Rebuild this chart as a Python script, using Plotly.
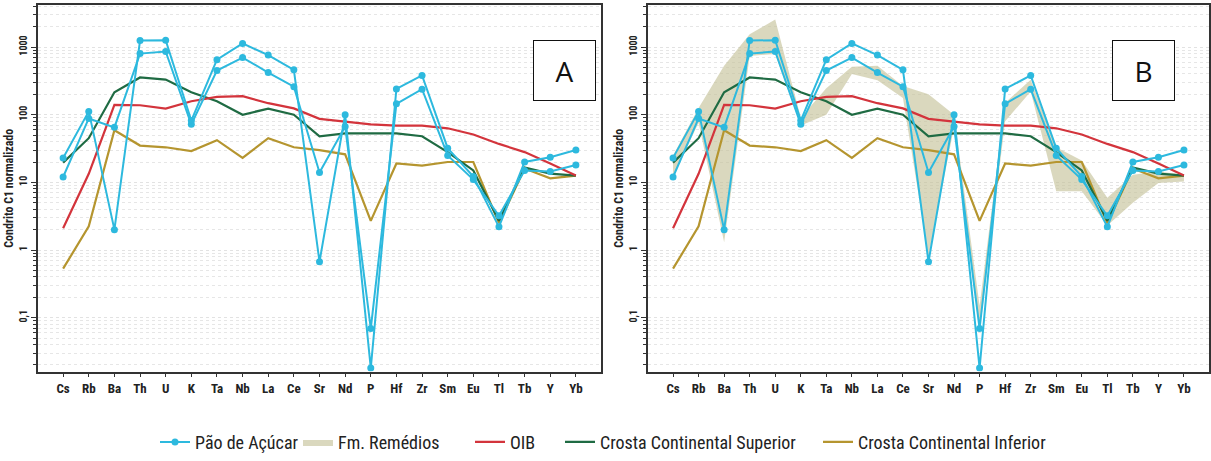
import plotly.graph_objects as go

elements = ["Cs", "Rb", "Ba", "Th", "U", "K", "Ta", "Nb", "La", "Ce", "Sr",
            "Nd", "P", "Hf", "Zr", "Sm", "Eu", "Tl", "Tb", "Y", "Yb"]

pao_1 = [12, 88, 65, 800, 860, 72, 450, 700, 420, 260, 14, 67, 0.069,
         145, 238, 25, 11, 3.2, 15, 14.5, 18]
pao_2 = [23, 112, 2.0, 1250, 1260, 82, 650, 1130, 760, 460, 0.67, 100, 0.018,
         240, 380, 32, 12.2, 2.2, 20, 23.5, 30]
oib = [2.1, 13.4, 140, 138, 123, 158, 183, 188, 148, 124, 87, 79, 72,
       69, 69, 63, 51, 37, 28, 19, 12.6]
crosta_sup = [19.6, 45, 215, 355, 330, 215, 158, 100, 123, 100, 48, 53, 53,
              53, 48, 28, 15, 2.7, 16.6, 13.5, 12.6]
crosta_inf = [0.53, 2.24, 59, 35, 33, 29, 42, 23, 45, 33, 30, 26, 2.7,
              19, 17.7, 20, 20, 2.5, 16, 11.5, 12.6]
remedios_sup = [25, 126, 530, 1540, 2550, 91, 246, 512, 530, 265, 200, 100, 0.15,
                150, 330, 33, 21, 5.9, 13, 14.5, 13]
remedios_inf = [12, 76, 1.3, 740, 790, 69, 100, 400, 323, 177, 0.8, 65, 0.06,
                80, 220, 7.4, 7.4, 2.3, 5, 9.8, 10.3]

ytick_vals = [0.1, 1, 10, 100, 1000]
ytick_text = ["0,1", "1", "10", "100", "1000"]

CYAN = "#2DB9DE"
RED = "#D3343C"
GREEN = "#1F6B43"
GOLD = "#B5952F"
BAND = "rgba(196,192,150,0.62)"
NARROW = "Liberation Sans Narrow, Arial Narrow, Roboto Condensed, Liberation Sans, sans-serif"

x_idx = list(range(len(elements)))

fig = go.Figure()


def add_panel(xa, ya, with_band, legend):
    if with_band:
        fig.add_trace(go.Scatter(
            x=x_idx + x_idx[::-1], y=remedios_sup + remedios_inf[::-1],
            fill="toself", fillcolor=BAND, line=dict(width=0), mode="lines",
            name="Fm. Remédios", legend="legend2", showlegend=True,
            xaxis=xa, yaxis=ya, hoverinfo="skip"))
    for vals, nm, col, lg in [
            (crosta_inf, "Crosta Continental Inferior", GOLD, "legend5"),
            (crosta_sup, "Crosta Continental Superior", GREEN, "legend4"),
            (oib, "OIB", RED, "legend3")]:
        fig.add_trace(go.Scatter(
            x=x_idx, y=vals, mode="lines", line=dict(color=col, width=2.2),
            name=nm, legend=lg, showlegend=legend,
            xaxis=xa, yaxis=ya))
    for j, vals in enumerate([pao_1, pao_2]):
        fig.add_trace(go.Scatter(
            x=x_idx, y=vals, mode="lines+markers",
            line=dict(color=CYAN, width=2), marker=dict(color=CYAN, size=7),
            name="Pão de Açúcar", legend="legend",
            showlegend=(legend and j == 0), xaxis=xa, yaxis=ya))


add_panel("x", "y", False, True)
add_panel("x2", "y2", True, False)

minor_vals = []
for e in range(-2, 4):
    for m in range(2, 10):
        minor_vals.append(m * 10 ** e)

xcommon = dict(
    tickmode="array", tickvals=x_idx, ticktext=elements, range=[-0.98, 20.98],
    showline=True, linecolor="#333", linewidth=1.6, mirror=True,
    ticks="outside", ticklen=4, tickcolor="#333", showgrid=False, zeroline=False,
    tickfont=dict(family=NARROW, size=13, color="#222", weight="bold"),
)
ycommon = dict(
    type="log", range=[-1.797, 3.623], tickmode="array",
    tickvals=ytick_vals, ticktext=ytick_text, tickangle=-90,
    tickfont=dict(family=NARROW, size=10, color="#222", weight="bold"),
    showline=True, linecolor="#333", linewidth=1.6, mirror=True,
    ticks="outside", ticklen=5, tickcolor="#333",
    showgrid=True, gridcolor="#e2e2e2", griddash="dot", gridwidth=1,
    minor=dict(tickvals=minor_vals, ticks="outside", ticklen=3, tickcolor="#333",
               showgrid=True, gridcolor="#e6e6e6", griddash="dot", gridwidth=1),
    zeroline=False,
    title=dict(text="Condrito C1 normalizado", standoff=2,
               font=dict(family=NARROW, size=12, color="#222", weight="bold")),
)

top = 1 - 5 / 461
bottom = 1 - 379 / 461

legend_y = 1 - 451 / 461


def leg(xpx):
    return dict(orientation="h", x=xpx / 1211, y=legend_y, xanchor="left",
                yanchor="middle", font=dict(family=NARROW, size=18, color="#222"),
                itemwidth=30, bgcolor="rgba(0,0,0,0)")


fig.update_layout(
    width=1211, height=461,
    margin=dict(l=0, r=0, t=0, b=0),
    paper_bgcolor="white", plot_bgcolor="white",
    xaxis=dict(domain=[38 / 1211, 601 / 1211], anchor="y", **xcommon),
    yaxis=dict(domain=[bottom, top], anchor="x", **ycommon),
    xaxis2=dict(domain=[648 / 1211, 1209 / 1211], anchor="y2", **xcommon),
    yaxis2=dict(domain=[bottom, top], anchor="x2", **ycommon),
    showlegend=True,
    legend=leg(155),
    legend2=leg(298),
    legend3=leg(470),
    legend4=leg(560),
    legend5=leg(818),
    annotations=[
        dict(text="A", xref="paper", yref="paper", x=564.5 / 1211, y=1 - 40.5 / 461,
             showarrow=False, width=61, height=59, borderpad=0,
             bordercolor="#111", borderwidth=1, bgcolor="white",
             font=dict(family="Open Sans, Liberation Sans", size=28, color="#111")),
        dict(text="B", xref="paper", yref="paper", x=1174.5 / 1211, y=1 - 40.5 / 461,
             showarrow=False, width=61, height=59, borderpad=0,
             bordercolor="#111", borderwidth=1, bgcolor="white",
             font=dict(family="Open Sans, Liberation Sans", size=28, color="#111")),
    ],
)

fig.write_html("out.html")
